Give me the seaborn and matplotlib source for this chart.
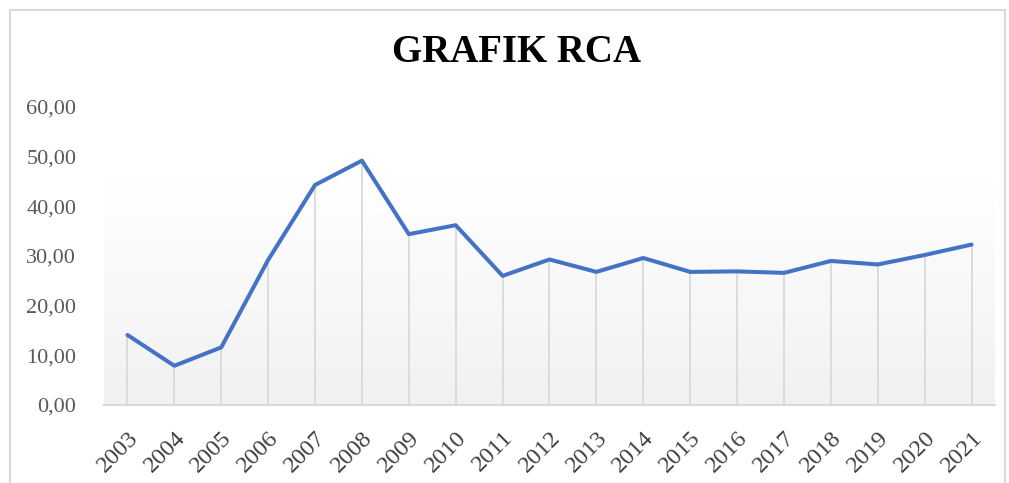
import numpy as np
import pandas as pd
import matplotlib
matplotlib.use("Agg")
import matplotlib.pyplot as plt
import seaborn as sns
from matplotlib.lines import Line2D

years = ["2003", "2004", "2005", "2006", "2007", "2008", "2009", "2010", "2011", "2012",
         "2013", "2014", "2015", "2016", "2017", "2018", "2019", "2020", "2021"]
rca = [14.1, 7.9, 11.6, 29.2, 44.3, 49.2, 34.4, 36.2, 26.0, 29.3,
       26.8, 29.6, 26.8, 26.9, 26.6, 29.0, 28.3, 30.2, 32.3]
y_ticks = [0, 10, 20, 30, 40, 50, 60]
y_tick_labels = ["0,00", "10,00", "20,00", "30,00", "40,00", "50,00", "60,00"]
title_text = "GRAFIK RCA"

sns.set_style("white")
plt.rcParams['font.family'] = ['Liberation Serif', 'DejaVu Serif']

df = pd.DataFrame({"Tahun": years, "RCA": rca})
df["pos"] = np.arange(len(years))

fig = plt.figure(figsize=(10.09, 4.83), dpi=100)
ax = fig.add_axes([104/1009, 1-405/483, (995-104)/1009, (405-107)/483])

# gradient background
grad = np.linspace(0, 1, 256)
col_top = np.array([1.0, 1.0, 1.0])
col_bot = np.array([0.945, 0.945, 0.945])
t = np.clip((grad - 0.0) / 0.75, 0, 1)
img = (col_bot[None, :] * (1 - t[:, None]) + col_top[None, :] * t[:, None])
img = img[:, None, :]
ax.imshow(img, extent=[0, 1, 0, 1], transform=ax.transAxes, aspect="auto",
          origin="lower", zorder=0)

ax.vlines(df["pos"], 0, df["RCA"], colors="#d9d9d9", linewidth=1.3, zorder=1)
sns.lineplot(data=df, x="pos", y="RCA", ax=ax, color="#4472C4", linewidth=2.9,
             zorder=3, solid_capstyle="round", solid_joinstyle="round")

ax.set_xlim(-0.5, len(years) - 0.5)
ax.set_ylim(0, 60)
ax.set_xticks(df["pos"])
ax.set_xticklabels(years, rotation=45, ha="right", rotation_mode="anchor",
                   fontsize=17.5, color="#404040")
ax.set_yticks(y_ticks)
ax.set_yticklabels(y_tick_labels, fontsize=16, color="#595959")
ax.tick_params(axis="both", length=0)
ax.tick_params(axis="y", pad=20)
ax.tick_params(axis="x", pad=16)
ax.set_xlabel("")
ax.set_ylabel("")
for s in ["top", "right", "left"]:
    ax.spines[s].set_visible(False)
ax.spines["bottom"].set_color("#d9d9d9")
ax.spines["bottom"].set_linewidth(1.5)
ax.spines["bottom"].set_zorder(2)

fig.text(516/1009, 1-52/483, title_text, ha="center", va="center",
         fontsize=28, fontweight="bold", color="black")

# chart border
bc = "#d9d9d9"
fig.add_artist(Line2D([10/1009, 1005/1009], [1-10/483, 1-10/483], color=bc, lw=1.5))
fig.add_artist(Line2D([10/1009, 10/1009], [0, 1-10/483], color=bc, lw=1.5))
fig.add_artist(Line2D([1005/1009, 1005/1009], [0, 1-10/483], color=bc, lw=1.5))

fig.savefig("out.png", dpi=100)
